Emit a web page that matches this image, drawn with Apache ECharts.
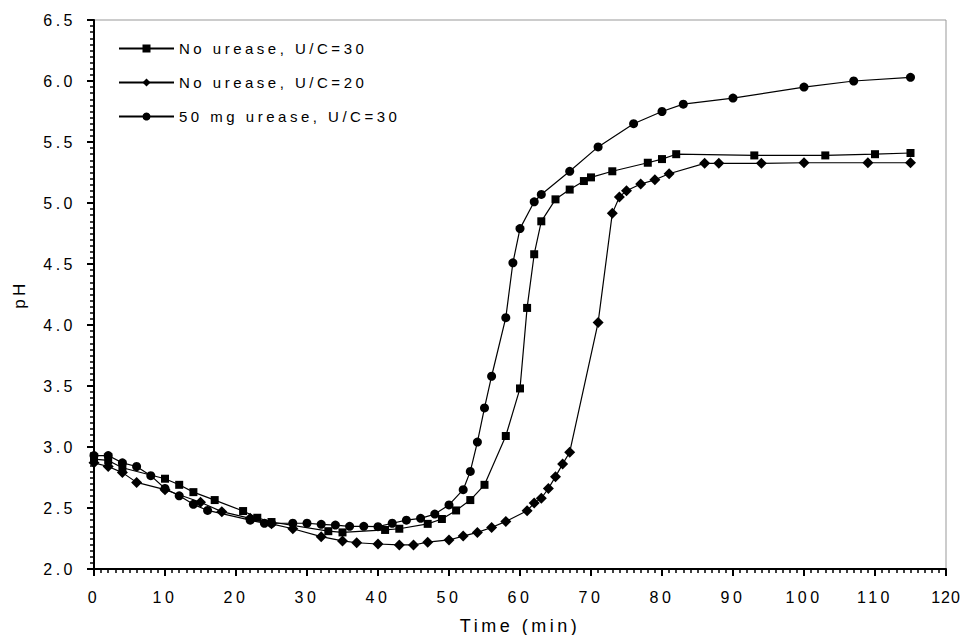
<!DOCTYPE html>
<html>
<head>
<meta charset="utf-8">
<script src="https://cdn.jsdelivr.net/npm/echarts@6/dist/echarts.min.js"></script>
<style>
  html, body { margin: 0; padding: 0; background: #fff; }
  #chart { width: 963px; height: 635px; }
  /* the scanned figure has wide letter spacing */
  #chart svg text { letter-spacing: 3.5px; }
</style>
</head>
<body>
<div id="chart"></div>
<script>
const xTicks = [0, 10, 20, 30, 40, 50, 60, 70, 80, 90, 100, 110, 120]
const yTicks = [2.0, 2.5, 3.0, 3.5, 4.0, 4.5, 5.0, 5.5, 6.0, 6.5]

const seriesNames = ['No urease, U/C=30', 'No urease, U/C=20', '50 mg urease, U/C=30']

// No urease, U/C=30 (squares)
const timeA = [0, 2, 4, 10, 12, 14, 17, 21, 23, 25, 33, 35, 41, 43, 47, 49, 51, 53, 55, 58, 60, 61, 62, 63, 65, 67, 69, 70, 73, 78, 80, 82, 93, 103, 110, 115]
const phA = [2.90, 2.89, 2.83, 2.74, 2.69, 2.63, 2.565, 2.475, 2.42, 2.385, 2.31, 2.30, 2.32, 2.33, 2.37, 2.41, 2.48, 2.565, 2.69, 3.09, 3.48, 4.14, 4.58, 4.85, 5.03, 5.11, 5.18, 5.21, 5.26, 5.33, 5.36, 5.40, 5.39, 5.39, 5.40, 5.41]

// No urease, U/C=20 (diamonds)
const timeB = [0, 2, 4, 6, 10, 15, 18, 22, 25, 28, 32, 35, 37, 40, 43, 45, 47, 50, 52, 54, 56, 58, 61, 62, 63, 64, 65, 66, 67, 71, 73, 74, 75, 77, 79, 81, 86, 88, 94, 100, 109, 115]
const phB = [2.87, 2.84, 2.79, 2.71, 2.65, 2.547, 2.47, 2.415, 2.37, 2.33, 2.265, 2.23, 2.215, 2.205, 2.197, 2.197, 2.22, 2.238, 2.27, 2.30, 2.34, 2.39, 2.478, 2.54, 2.58, 2.66, 2.757, 2.86, 2.957, 4.02, 4.915, 5.05, 5.10, 5.156, 5.19, 5.24, 5.325, 5.325, 5.325, 5.33, 5.33, 5.33]

// 50 mg urease, U/C=30 (circles)
const timeC = [0, 2, 4, 6, 8, 10, 12, 14, 16, 22, 24, 25, 28, 30, 32, 34, 36, 38, 40, 42, 44, 46, 48, 50, 52, 53, 54, 55, 56, 58, 59, 60, 62, 63, 67, 71, 76, 80, 83, 90, 100, 107, 115]
const phC = [2.93, 2.93, 2.87, 2.84, 2.765, 2.66, 2.60, 2.53, 2.48, 2.40, 2.375, 2.375, 2.375, 2.375, 2.366, 2.36, 2.35, 2.35, 2.347, 2.375, 2.40, 2.415, 2.45, 2.525, 2.65, 2.80, 3.04, 3.32, 3.58, 4.06, 4.51, 4.79, 5.01, 5.07, 5.26, 5.46, 5.65, 5.75, 5.81, 5.86, 5.95, 6.00, 6.03]

const pairs = (xs, ys) => xs.map((x, i) => [x, ys[i]])

const font = 'Liberation Sans, Arial, sans-serif'

const chart = echarts.init(document.getElementById('chart'), null, { renderer: 'svg' })

// last x label sits on the right edge, tighten it so it stays inside
chart.on('finished', () => {
  document.querySelectorAll('#chart svg text').forEach(t => {
    if (t.textContent === '120') t.style.letterSpacing = '1px'
  })
})

const lineSeries = (name, symbol, size, xs, ys) => ({
  name,
  type: 'line',
  data: pairs(xs, ys),
  symbol,
  symbolSize: size,
  showAllSymbol: true,
  lineStyle: { color: '#000', width: 1.2 },
  itemStyle: { color: '#000', borderWidth: 0 },
  emphasis: { disabled: true },
  animation: false
})

chart.setOption({
  backgroundColor: '#fff',
  animation: false,
  textStyle: { fontFamily: font },
  grid: {
    left: 94,
    right: 17,
    top: 20,
    bottom: 66,
    outerBoundsMode: 'none',
    show: true,
    borderColor: '#999',
    borderWidth: 1
  },
  legend: {
    orient: 'vertical',
    left: 113,
    top: 36,
    itemWidth: 55,
    itemHeight: 10,
    itemGap: 19,
    data: seriesNames,
    textStyle: { fontFamily: font, fontSize: 15, color: '#000' }
  },
  xAxis: {
    type: 'value',
    min: xTicks[0],
    max: xTicks[xTicks.length - 1],
    interval: 10,
    name: 'Time (min)',
    nameLocation: 'middle',
    nameGap: 48,
    nameTextStyle: { fontFamily: font, fontSize: 18, color: '#000' },
    axisLine: { lineStyle: { color: '#000', width: 2 } },
    axisTick: { length: 7, lineStyle: { color: '#000', width: 2 } },
    minorTick: { show: true, splitNumber: 10, length: 4, lineStyle: { color: '#000', width: 1.5 } },
    splitLine: { show: false },
    axisLabel: { margin: 20, fontFamily: font, fontSize: 16, color: '#000' }
  },
  yAxis: {
    type: 'value',
    min: yTicks[0],
    max: yTicks[yTicks.length - 1],
    interval: 0.5,
    name: 'pH',
    nameLocation: 'middle',
    nameGap: 66,
    nameTextStyle: { fontFamily: font, fontSize: 17, color: '#000' },
    axisLine: { lineStyle: { color: '#000', width: 2 } },
    axisTick: { length: 7, lineStyle: { color: '#000', width: 2 } },
    minorTick: { show: true, splitNumber: 10, length: 4, lineStyle: { color: '#000', width: 1.5 } },
    splitLine: { show: false },
    axisLabel: {
      margin: 18,
      fontFamily: font,
      fontSize: 16,
      color: '#000',
      formatter: v => v.toFixed(1)
    }
  },
  series: [
    lineSeries(seriesNames[0], 'rect', 8, timeA, phA),
    lineSeries(seriesNames[1], 'diamond', 11, timeB, phB),
    lineSeries(seriesNames[2], 'circle', 9, timeC, phC)
  ]
})
</script>
</body>
</html>
